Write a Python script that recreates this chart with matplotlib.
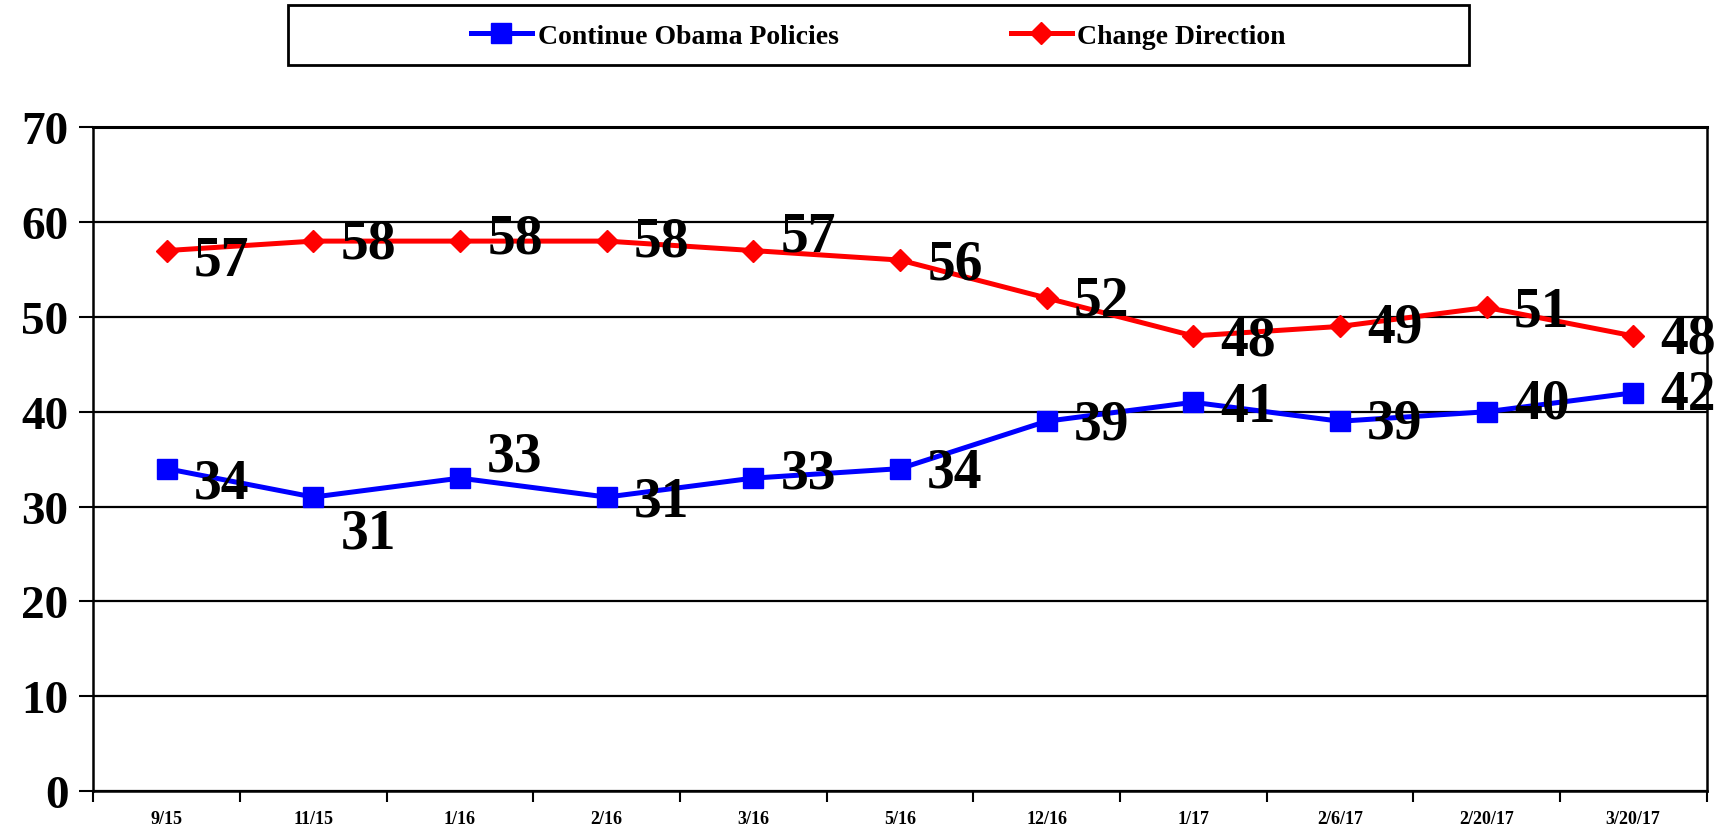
import matplotlib
matplotlib.use("Agg")
import matplotlib.pyplot as plt
from matplotlib.patches import Rectangle

dates = ['9/15', '11/15', '1/16', '2/16', '3/16', '5/16', '12/16', '1/17', '2/6/17', '2/20/17', '3/20/17']
continue_obama = [34, 31, 33, 31, 33, 34, 39, 41, 39, 40, 42]
change_direction = [57, 58, 58, 58, 57, 56, 52, 48, 49, 51, 48]

# vertical nudges of the value labels (pixels), as placed in the original
cont_dy = [-15, -36, 22, -4, 5, -4, -3, -5, -2, 8, -2]
chg_dy = [-10, -2, 3, 0, 14, -4, -3, -5, -1, -4, -3]

plt.rcParams['font.family'] = ['Liberation Serif', 'DejaVu Serif']
plt.rcParams['font.weight'] = 'bold'

fig = plt.figure(figsize=(17.29, 8.28), dpi=100)
ax = fig.add_axes([0.054, 0.0435, 0.933, 0.8015])

x = list(range(len(dates)))
l1, = ax.plot(x, continue_obama, color='#0000FF', lw=3.6, marker='s', ms=14,
              label='Continue Obama Policies', zorder=3)
l2, = ax.plot(x, change_direction, color='#FF0000', lw=3.6, marker='D', ms=11,
              label='Change Direction', zorder=3)

for i in x:
    ax.annotate(str(continue_obama[i]), (i, continue_obama[i]),
                xytext=(55, cont_dy[i]), textcoords='offset pixels',
                ha='center', va='center', fontsize=40, fontweight='bold', zorder=4)
    ax.annotate(str(change_direction[i]), (i, change_direction[i]),
                xytext=(55, chg_dy[i]), textcoords='offset pixels',
                ha='center', va='center', fontsize=40, fontweight='bold', zorder=4)

ax.set_xlim(-0.5, len(dates) - 0.5)
ax.set_ylim(0, 70)
ax.set_yticks(range(0, 71, 10))
ax.yaxis.grid(True, color='black', lw=1.6)
ax.set_axisbelow(True)
ax.tick_params(axis='y', labelsize=34, length=10, width=1.5, pad=8)
for t in ax.get_yticklabels():
    t.set_fontweight('bold')

ax.set_xticks([i - 0.5 for i in range(len(dates) + 1)])
ax.set_xticklabels([])
ax.set_xticks(x, minor=True)
ax.set_xticklabels(dates, minor=True, fontsize=13, fontweight='bold')
ax.tick_params(axis='x', which='major', length=8, width=1.5)
ax.tick_params(axis='x', which='minor', length=0, pad=14)

ax.spines['top'].set_linewidth(2.2)
for s in ['left', 'right', 'bottom']:
    ax.spines[s].set_linewidth(1.8)

# legend box
fig.patches.append(Rectangle((0.1665, 0.92), 0.683, 0.073, transform=fig.transFigure,
                             fill=False, edgecolor='black', lw=2))
fig.legend(handles=[l1, l2], loc='center', bbox_to_anchor=(0.508, 0.955), ncol=2,
           frameon=False, prop={'size': 20, 'weight': 'bold'}, handlelength=2.2,
           columnspacing=6.2, handletextpad=0.2)

fig.savefig('out.png', dpi=100)
